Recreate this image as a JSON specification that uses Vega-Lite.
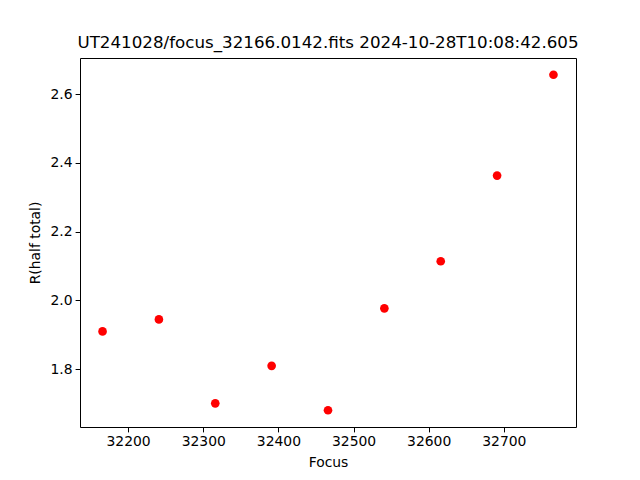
{
  "$schema": "https://vega.github.io/schema/vega-lite/v6.json",
  "width": 496,
  "height": 369,
  "autosize": {"type": "none"},
  "padding": {"left": 80, "top": 58, "right": 64, "bottom": 53},
  "background": "white",
  "title": {
    "text": "UT241028/focus_32166.0142.fits 2024-10-28T10:08:42.605",
    "font": "DejaVu Sans",
    "fontSize": 16.7,
    "fontWeight": "normal",
    "color": "black",
    "anchor": "middle",
    "offset": 6
  },
  "config": {
    "view": {"stroke": "black", "strokeWidth": 1},
    "axis": {
      "grid": false,
      "domain": false,
      "tickColor": "black",
      "tickSize": 4.9,
      "tickWidth": 1,
      "labelFont": "DejaVu Sans",
      "labelFontSize": 13.9,
      "labelColor": "black",
      "labelPadding": 3,
      "titleFont": "DejaVu Sans",
      "titleFontSize": 13.9,
      "titleFontWeight": "normal",
      "titleColor": "black"
    }
  },
  "data": {
    "values": [
      {"focus": 32166, "r": 1.910},
      {"focus": 32241, "r": 1.945},
      {"focus": 32316, "r": 1.701},
      {"focus": 32391, "r": 1.810},
      {"focus": 32466, "r": 1.681},
      {"focus": 32541, "r": 1.977},
      {"focus": 32616, "r": 2.114},
      {"focus": 32691, "r": 2.363},
      {"focus": 32766, "r": 2.656}
    ]
  },
  "mark": {"type": "circle", "size": 75, "color": "#ff0000", "opacity": 1},
  "encoding": {
    "x": {
      "field": "focus",
      "type": "quantitative",
      "title": "Focus",
      "scale": {"domain": [32136, 32796], "nice": false, "zero": false},
      "axis": {"values": [32200, 32300, 32400, 32500, 32600, 32700], "format": "d", "titlePadding": 7}
    },
    "y": {
      "field": "r",
      "type": "quantitative",
      "title": "R(half total)",
      "scale": {"domain": [1.6322, 2.7047], "nice": false, "zero": false},
      "axis": {"values": [1.8, 2.0, 2.2, 2.4, 2.6], "format": ".1f", "titlePadding": 8}
    }
  }
}
